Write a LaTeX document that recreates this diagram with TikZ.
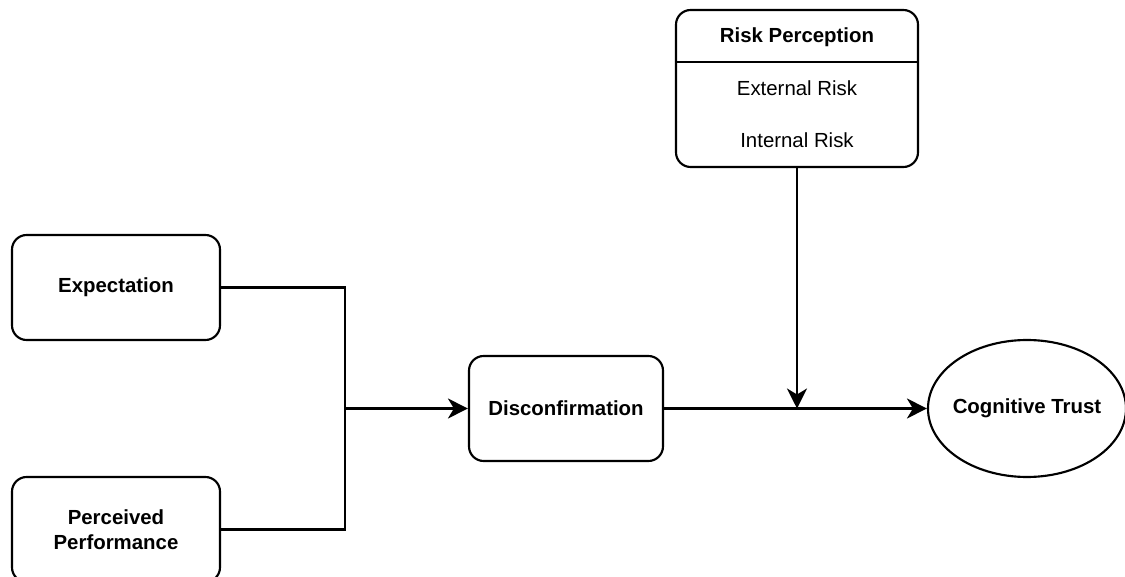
\documentclass[tikz,border=0pt]{standalone}
\usepackage{fontspec}
\setmainfont{Liberation Sans}
\usepackage{xcolor}
\usepackage{tikz}
\usetikzlibrary{calc,arrows.meta,positioning,shapes.geometric}
\definecolor{linec}{HTML}{000000}
\definecolor{boxbg}{HTML}{FFFFFF}
\newcommand{\dfont}{\fontsize{15.3}{18.6}\selectfont}
\tikzset{
  ln/.style={line width=1.6pt,linec},
  ar/.style={-{Stealth[length=15pt,width=15pt,inset=4.5pt]},line width=1.6pt,linec},
  box/.style={draw=linec,line width=1.6pt,rounded corners=11pt,fill=boxbg,align=center,inner sep=4pt,font=\dfont\bfseries},
  oval/.style={ellipse,draw=linec,line width=1.6pt,fill=boxbg,inner sep=-20pt,font=\dfont\bfseries},
  txt/.style={inner sep=0pt,font=\dfont}
}
\begin{document}
\begin{tikzpicture}[x=0.75pt,y=-0.75pt]
\fill[white] (0,0) rectangle (1125,577);
\useasboundingbox (0,0) rectangle (1125,577);
\node[box,minimum width=156pt,minimum height=78.75pt] (exp) at (116,287.5) {Expectation};
\node[box,minimum width=156pt,minimum height=78.75pt] (perf) at (116,529.5) {Perceived\\Performance};
\node[box,minimum width=145.5pt,minimum height=78.75pt] (disc) at (566,408.5) {Disconfirmation};
\node[oval,minimum width=148.5pt,minimum height=102.75pt] (trust) at (1027,408.5) {Cognitive Trust};
\node[box,minimum width=181.5pt,minimum height=117.75pt] (risk) at (797,88.5) {};
\node[txt,font=\dfont\bfseries] (riskhd) at (797,37) {Risk Perception};
\node[txt] (extrisk) at (797,88) {External Risk};
\node[txt] (intrisk) at (797,140) {Internal Risk};
\draw[ln] (risk.west |- 0,62) -- (risk.east |- 0,62);
\coordinate (fork) at (345,408.5);
\coordinate (mod) at (risk.south |- disc.east);
\draw[ln] (exp.east) -| (fork) |- (perf.east);
\draw[ar] (fork) -- (disc.west);
\draw[ar] (disc.east) -- (trust.west);
\draw[ar] (risk.south) -- (mod);
\end{tikzpicture}
\end{document}
